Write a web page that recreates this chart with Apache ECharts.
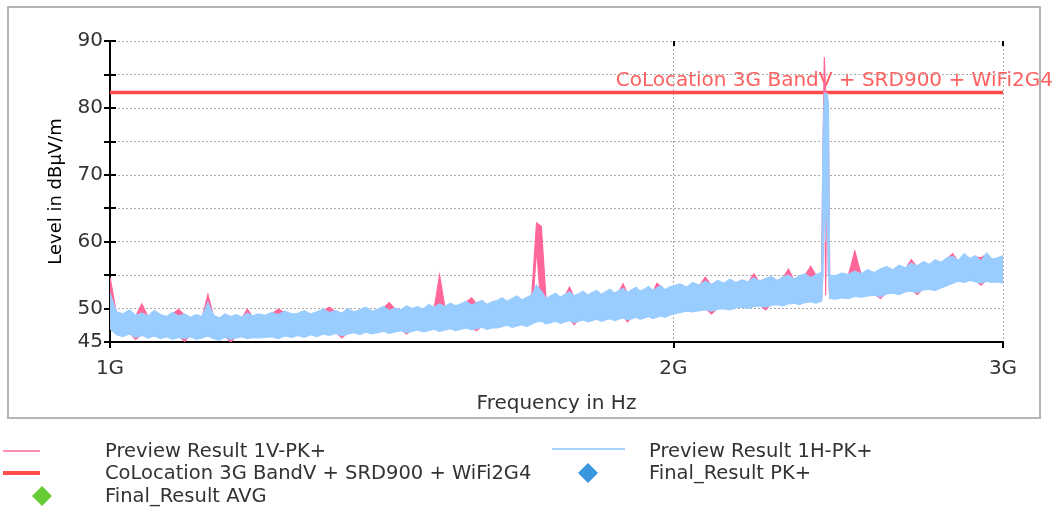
<!DOCTYPE html>
<html>
<head>
<meta charset="utf-8">
<script src="https://cdn.jsdelivr.net/npm/echarts@6/dist/echarts.min.js"></script>
<style>
html,body{margin:0;padding:0;background:#fff;}
#chart{width:1059px;height:514px;}
</style>
</head>
<body>
<div id="chart"></div>
<script>
// Frequency grid (MHz)
const freqMHz = [
  1000,1008,1016,1024,1032,1040,1048,1056,1064,1072,1080,1088,1096,1104,1112,1120,1128,1136,1144,1152,1160,1168,1176,1184,1192,1200,
  1210,1220,1230,1240,1250,1260,1270,1280,1290,1300,1310,1320,1330,1340,1350,1360,1370,1380,1390,1400,1410,1420,1430,1440,1450,1460,1470,1480,1490,1500,1510,1520,1530,1540,1550,1560,1570,1580,1590,1600,
  1610,1620,1630,1640,1650,1660,1670,1680,1690,1700,1710,1720,1730,1740,1750,1760,1770,1780,1790,1800,1810,1820,1830,1840,1850,1860,1870,1880,1890,1900,1910,1920,1930,1940,1950,1960,1970,1980,1990,2000,
  2016,2032,2048,2064,2080,2096,2112,2128,2144,2160,2176,2192,2208,2224,2240,2256,2272,2288,2304,2320,2336,2352,2368,2384,2400,
  2404,2408,2412,2416,2420,2424,
  2440,2460,2480,2500,2520,2540,2560,2580,2600,2620,2640,2660,2680,2700,2720,2740,2760,2780,2800,2820,2840,2860,2880,2900,2920,2940,2960,2980,3000
];
// Preview Result 1V-PK+ (pink): upper / lower level of each bin, dBµV/m
const pinkHi = [
  54.7,49.3,49.0,49.6,48.8,50.7,48.7,49.5,48.9,48.6,49.2,49.9,49.0,48.5,48.9,48.6,52.1,48.8,48.4,49.0,48.6,48.9,48.5,49.9,48.7,49.0,
  48.8,49.2,49.9,49.4,49.0,49.1,49.5,49.0,49.3,49.7,50.2,49.5,49.1,49.8,49.3,49.6,50.0,49.4,49.7,50.1,50.9,49.9,49.6,50.2,49.8,50.1,49.7,50.4,50.0,55.0,50.1,50.6,50.3,50.5,50.9,51.6,50.7,51.0,50.4,50.8,
  51.0,51.4,50.9,51.3,51.7,51.1,51.5,51.8,62.8,62.3,51.3,51.7,52.1,51.5,51.9,53.2,51.7,52.0,52.4,51.8,52.2,52.5,51.9,52.3,52.7,52.1,52.5,53.7,52.2,52.6,53.0,52.4,52.7,53.1,52.5,53.8,53.2,52.6,53.0,53.2,
  53.5,53.0,53.7,53.3,54.7,53.4,54.0,53.6,54.2,53.7,54.1,53.8,55.2,53.9,54.3,54.6,54.0,54.5,55.9,54.2,54.7,55.0,56.3,54.9,55.2,
  73.9,87.6,82.0,81.1,78.0,54.8,
  54.7,55.1,54.9,58.6,55.0,55.6,55.2,55.7,56.1,55.6,56.3,55.9,57.3,56.2,56.8,56.4,57.1,56.7,57.4,58.2,57.0,58.0,57.3,57.7,57.6,58.1,57.2,57.4,57.7
];
const pinkLo = [
  47.2,46.3,46.0,46.4,45.4,46.2,45.8,46.1,45.7,46.0,45.6,45.9,45.1,46.0,45.6,45.8,46.1,45.7,45.5,45.9,45.0,45.8,46.0,45.7,45.9,45.8,
  45.9,46.0,45.7,46.1,45.9,46.2,45.9,46.3,46.0,46.4,46.2,46.5,45.6,46.4,46.6,46.3,46.7,46.4,46.6,46.8,46.5,46.7,46.9,46.2,46.8,47.0,46.7,46.9,47.1,46.8,47.0,47.2,46.9,47.1,47.3,47.0,46.7,47.4,47.1,47.3,
  47.3,47.5,47.7,47.4,47.6,47.8,47.5,47.9,59.0,49.8,47.9,48.1,48.3,48.0,48.2,48.4,47.6,48.3,48.5,48.2,48.4,48.6,48.3,48.5,48.7,48.4,48.6,48.8,48.0,48.7,48.9,48.6,48.8,49.0,48.7,48.9,49.1,48.9,49.2,49.4,
  49.6,49.8,49.7,49.9,50.0,49.2,50.1,50.2,50.0,50.3,50.4,50.2,50.5,50.6,49.8,50.7,50.8,50.6,50.9,51.0,50.8,51.1,51.2,51.0,51.3,
  60.0,75.0,52.0,75.4,55.5,51.7,
  51.6,51.8,51.7,52.0,51.9,52.1,52.2,51.5,52.4,52.5,52.3,52.7,52.8,52.1,53.0,53.1,52.9,53.3,53.6,54.0,54.3,54.1,54.4,54.2,53.5,54.3,54.1,54.2,54.0
];
// Preview Result 1H-PK+ (blue)
const blueHi = [
  52.3,49.5,49.2,49.8,49.0,49.3,48.9,49.7,49.1,48.8,49.4,48.9,49.2,48.7,49.1,48.8,50.9,49.0,48.6,49.2,48.8,49.1,48.7,49.3,48.9,49.2,
  49.0,49.4,49.1,49.6,49.2,49.3,49.7,49.2,49.5,49.9,49.4,49.7,49.3,50.0,49.5,49.8,50.2,49.6,49.9,50.3,49.7,50.1,49.8,50.4,50.0,50.3,49.9,50.6,50.2,50.7,50.3,50.8,50.4,50.7,51.1,50.5,50.9,51.2,50.6,51.0,
  51.2,51.6,51.1,51.5,51.9,51.3,51.7,52.0,53.5,52.6,51.5,51.9,52.3,51.7,52.1,52.5,51.9,52.2,52.6,52.0,52.4,52.7,52.1,52.5,52.9,52.3,52.7,53.0,52.4,52.8,53.2,52.6,52.9,53.3,52.7,53.1,53.4,52.8,53.2,53.4,
  53.7,53.2,53.9,53.5,54.1,53.6,54.2,53.8,54.4,53.9,54.3,54.0,54.6,54.1,54.5,54.8,54.2,54.7,55.0,54.4,54.9,55.2,54.6,55.1,55.4,
  75.0,82.2,82.0,82.2,81.0,55.0,
  54.9,55.3,55.1,55.6,55.2,55.8,55.4,55.9,56.3,55.8,56.5,56.1,56.8,56.4,57.0,56.6,57.3,56.9,57.6,57.8,57.2,58.2,57.5,57.9,57.1,58.3,57.4,57.6,57.9
];
const blueLo = [
  47.0,46.1,45.8,46.2,45.7,46.0,45.6,45.9,45.5,45.8,45.4,45.7,45.5,45.8,45.4,45.6,45.9,45.5,45.3,45.7,45.4,45.6,45.8,45.5,45.7,45.6,
  45.7,45.8,45.5,45.9,45.7,46.0,45.7,46.1,45.8,46.2,46.0,46.3,45.9,46.2,46.4,46.1,46.5,46.2,46.4,46.6,46.3,46.5,46.7,46.4,46.6,46.8,46.5,46.7,46.9,46.6,46.8,47.0,46.7,46.9,47.1,46.8,47.0,47.2,46.9,47.1,
  47.1,47.3,47.5,47.2,47.4,47.6,47.3,47.7,48.0,48.1,47.7,47.9,48.1,47.8,48.0,48.2,47.9,48.1,48.3,48.0,48.2,48.4,48.1,48.3,48.5,48.2,48.4,48.6,48.3,48.5,48.7,48.4,48.6,48.8,48.5,48.7,48.9,48.7,49.0,49.2,
  49.4,49.6,49.5,49.7,49.8,49.6,49.9,50.0,49.8,50.1,50.2,50.0,50.3,50.4,50.2,50.5,50.6,50.4,50.7,50.8,50.6,50.9,51.0,50.8,51.1,
  55.0,68.0,60.0,70.0,55.5,51.5,
  51.4,51.6,51.5,51.8,51.7,51.9,52.0,51.8,52.2,52.3,52.1,52.5,52.6,52.4,52.8,52.9,52.7,53.1,53.4,53.8,54.1,53.9,54.2,54.0,53.8,54.1,53.9,54.0,53.8
];
const limitLevel = 82.3;
const limitRange = [1000, 3000];
const xTicks = [1000, 2000, 3000];
const yLabelled = [45, 50, 60, 70, 80, 90];
const limitName = 'CoLocation 3G BandV + SRD900 + WiFi2G4';

// band polygon between the upper and lower level, drawn through the axes' scales
function bandSeries(name, hi, lo, color, z) {
  return {
    name: name, type: 'custom', xAxisIndex: 0, yAxisIndex: 0, z: z, silent: true, clip: true,
    data: freqMHz.map((f, i) => [f, hi[i], lo[i]]),
    encode: {x: 0, y: [1, 2]},
    renderItem: function (params, api) {
      if (params.dataIndex !== 0) return null;
      const pts = [];
      for (let i = 0; i < freqMHz.length; i++) pts.push(api.coord([freqMHz[i], hi[i]]));
      for (let i = freqMHz.length - 1; i >= 0; i--) pts.push(api.coord([freqMHz[i], lo[i]]));
      return {
        type: 'polygon',
        shape: {points: pts},
        style: {fill: color, stroke: color, lineWidth: 1.2}
      };
    }
  };
}

const FONT = 'DejaVu Sans';
const chart = echarts.init(document.getElementById('chart'), null, {renderer: 'canvas'});

const xCommon = {type: 'log', logBase: 10, min: 1000, max: 3000, gridIndex: 0};

chart.setOption({
  animation: false,
  backgroundColor: '#ffffff',
  grid: {left: 110, right: 56, top: 41, bottom: 172, containLabel: false},
  xAxis: [
    Object.assign({}, xCommon, {
      name: 'Frequency in Hz', nameLocation: 'middle', nameGap: 52,
      nameTextStyle: {fontFamily: FONT, fontSize: 20, color: '#333'},
      axisLine: {show: true, lineStyle: {color: '#000', width: 2}},
      axisTick: {show: true, inside: false, length: 6, lineStyle: {color: '#000', width: 2}, customValues: xTicks},
      axisLabel: {show: true, margin: 17, fontFamily: FONT, fontSize: 20, color: '#333', customValues: xTicks,
        formatter: v => (Math.round(v / 1000)) + 'G'},
      splitLine: {show: true, lineStyle: {color: '#aaa', type: [2, 2], width: 1}}
    }),
    Object.assign({}, xCommon, {
      axisLine: {show: false},
      axisTick: {show: true, inside: true, length: 5, lineStyle: {color: '#000', width: 2}, customValues: xTicks},
      axisLabel: {show: false, customValues: xTicks},
      splitLine: {show: false}
    })
  ],
  yAxis: [
    {
      type: 'value', min: 45, max: 90, interval: 5, position: 'left',
      name: 'Level in dBµV/m', nameLocation: 'middle', nameGap: 45, nameRotate: 90,
      nameTextStyle: {fontFamily: FONT, fontSize: 18, color: '#000'},
      axisLine: {show: true, lineStyle: {color: '#000', width: 2}},
      axisTick: {show: true, inside: false, length: 6, lineStyle: {color: '#000', width: 2}},
      axisLabel: {show: true, margin: 7, fontFamily: FONT, fontSize: 20, color: '#333',
        formatter: v => (yLabelled.indexOf(v) >= 0 ? String(v) : '')},
      splitLine: {show: true, lineStyle: {color: '#aaa', type: [2, 2], width: 1}}
    },
    {
      type: 'value', min: 45, max: 90, interval: 5, position: 'left',
      axisLine: {show: false},
      axisTick: {show: true, inside: true, length: 6, lineStyle: {color: '#000', width: 2}},
      axisLabel: {show: false},
      splitLine: {show: false}
    }
  ],
  series: [
    {
      name: limitName, type: 'line', xAxisIndex: 0, yAxisIndex: 0,
      data: limitRange.map(f => [f, limitLevel]),
      symbol: 'none', silent: true,
      lineStyle: {color: '#ff4a4a', width: 3.5}, z: 2
    },
    bandSeries('Preview Result 1V-PK+', pinkHi, pinkLo, '#ff6699', 3),
    bandSeries('Preview Result 1H-PK+', blueHi, blueLo, '#99ccff', 4),
    {name: 'Final_Result PK+', type: 'scatter', data: [], symbol: 'diamond', itemStyle: {color: '#3a96dd'}},
    {name: 'Final_Result AVG', type: 'scatter', data: [], symbol: 'diamond', itemStyle: {color: '#66cc33'}}
  ],
  graphic: [
    {type: 'rect', z: -10, silent: true, shape: {x: 8, y: 7, width: 1032, height: 411},
      style: {fill: 'none', stroke: '#b4b4b4', lineWidth: 2}},
    {type: 'text', silent: true, x: 1053, y: 81,
      style: {text: limitName, fill: '#ff6060', font: '20px "DejaVu Sans"', align: 'right', verticalAlign: 'middle'}},
    // legend
    {type: 'line', silent: true, shape: {x1: 3, y1: 451, x2: 40, y2: 451}, style: {stroke: '#ff8fb0', lineWidth: 2}},
    {type: 'text', silent: true, x: 105, y: 452, style: {text: 'Preview Result 1V-PK+', fill: '#333', font: '19.5px "DejaVu Sans"', verticalAlign: 'middle'}},
    {type: 'line', silent: true, shape: {x1: 3, y1: 473, x2: 40, y2: 473}, style: {stroke: '#ff4a4a', lineWidth: 4}},
    {type: 'text', silent: true, x: 105, y: 474, style: {text: limitName, fill: '#333', font: '19.5px "DejaVu Sans"', verticalAlign: 'middle'}},
    {type: 'polygon', silent: true, shape: {points: [[42, 486], [52, 496], [42, 506], [32, 496]]}, style: {fill: '#66cc33'}},
    {type: 'text', silent: true, x: 105, y: 497, style: {text: 'Final_Result AVG', fill: '#333', font: '19.5px "DejaVu Sans"', verticalAlign: 'middle'}},
    {type: 'line', silent: true, shape: {x1: 552, y1: 449, x2: 625, y2: 449}, style: {stroke: '#a8d2ff', lineWidth: 2}},
    {type: 'text', silent: true, x: 649, y: 452, style: {text: 'Preview Result 1H-PK+', fill: '#333', font: '19.5px "DejaVu Sans"', verticalAlign: 'middle'}},
    {type: 'polygon', silent: true, shape: {points: [[588, 463], [598, 473], [588, 483], [578, 473]]}, style: {fill: '#3a96dd'}},
    {type: 'text', silent: true, x: 649, y: 474, style: {text: 'Final_Result PK+', fill: '#333', font: '19.5px "DejaVu Sans"', verticalAlign: 'middle'}}
  ]
});
</script>
</body>
</html>
